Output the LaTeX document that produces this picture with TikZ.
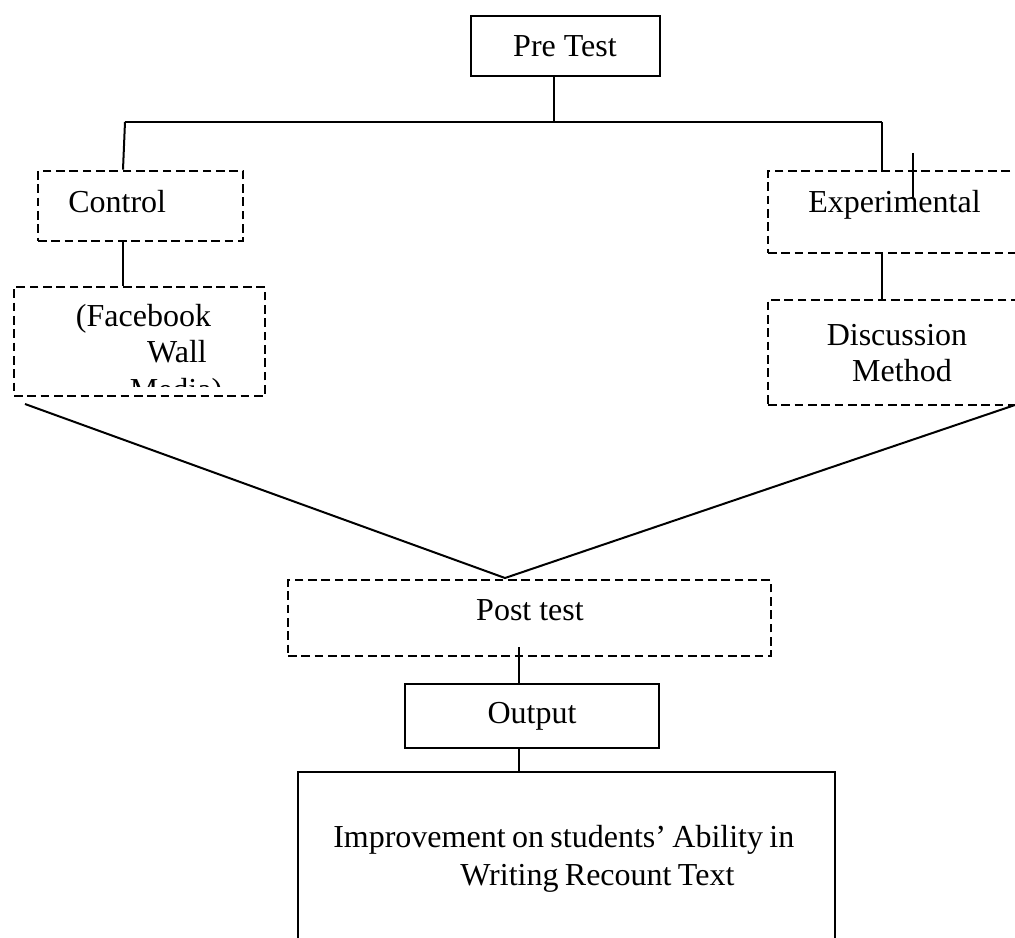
\documentclass[tikz,border=0pt]{standalone}
\usepackage{fontspec}
\setmainfont{Liberation Serif}
\begin{document}
\begin{tikzpicture}[x=0.75pt,y=-0.75pt,
  solidbox/.style={draw,line width=1.5pt,inner sep=0pt},
  dashbox/.style={draw,line width=2.05pt,dash pattern=on 6.5pt off 3.5pt,inner sep=0pt},
  conn/.style={line width=1.5pt},
  txt/.style={inner sep=0pt,font=\fontsize{24}{28}\selectfont},
  tight/.style={txt,execute at begin node={\spaceskip=0.2em plus 0.05em\relax}}]
\useasboundingbox (0,0) rectangle (1015,938);
\clip (0,0) rectangle (1015,938);
% boxes
\node[solidbox,minimum width=189*0.75pt,minimum height=60*0.75pt] (pre) at (565.5,46) {};
\node[dashbox,minimum width=205*0.75pt,minimum height=70*0.75pt] (ctrl) at (140.5,206) {};
\node[dashbox,minimum width=251*0.75pt,minimum height=109*0.75pt] (fb) at (139.5,341.5) {};
\node[dashbox,minimum width=280*0.75pt,minimum height=82*0.75pt] (exp) at (908,212) {};
\node[dashbox,minimum width=280*0.75pt,minimum height=105*0.75pt] (disc) at (908,352.5) {};
\node[dashbox,minimum width=483*0.75pt,minimum height=76*0.75pt] (post) at (529.5,618) {};
\node[solidbox,minimum width=254*0.75pt,minimum height=64*0.75pt] (out) at (532,716) {};
\node[solidbox,minimum width=537*0.75pt,minimum height=200*0.75pt] (imp) at (566.5,872) {};
% texts
\node[txt,anchor=base] (tpre) at (565,57) {Pre Test};
\node[txt,anchor=base west] (tctrl) at (68,213) {Control};
\node[txt,anchor=base west] (texp) at (808,213) {Experimental};
\begin{scope}
\clip (14,287) rectangle (265,386);
\node[txt,anchor=base] (tfb1) at (143.5,326) {(Facebook};
\node[txt,anchor=base] (tfb2) at (177,363) {Wall};
\node[txt,anchor=base] (tfb3) at (176,400) {Media)};
\end{scope}
\node[txt,anchor=base] (td1) at (897,345) {Discussion};
\node[txt,anchor=base] (td2) at (902,382) {Method};
\node[txt,anchor=base] (tpost) at (530,620) {Post test};
\node[txt,anchor=base] (tout) at (532,723) {Output};
\node[tight,anchor=base west] (ti1) at (333,847) {Improvement on students’ Ability in};
\node[tight,anchor=base west] (ti2) at (460,885) {Writing Recount Text};
% connectors
\coordinate (jn) at (554,122);
\coordinate (jl) at (125,122);
\coordinate (jr) at (882,122);
\coordinate (st1) at (913,153);
\coordinate (st2) at (913,197);
\coordinate (fbl) at (25,404);
\coordinate (dr) at (1015,405);
\coordinate (meet) at (505,578);
\coordinate (pin) at (519,647);
\draw[conn] (pre.south -| jn) -- (jn);
\draw[conn] (jl) -- (jr);
\draw[conn] (jl) -- (123,171 |- ctrl.north);
\draw[conn] (jr) -- (jr |- exp.north);
\draw[conn] (st1) -- (st2);
\draw[conn] (123,0 |- ctrl.south) -- (123,0 |- fb.north);
\draw[conn] (882,0 |- exp.south) -- (882,0 |- disc.north);
\draw[conn] (fbl) -- (meet) -- (dr);
\draw[conn] (pin) -- (pin |- out.north);
\draw[conn] (pin |- out.south) -- (pin |- imp.north);
\end{tikzpicture}
\end{document}
